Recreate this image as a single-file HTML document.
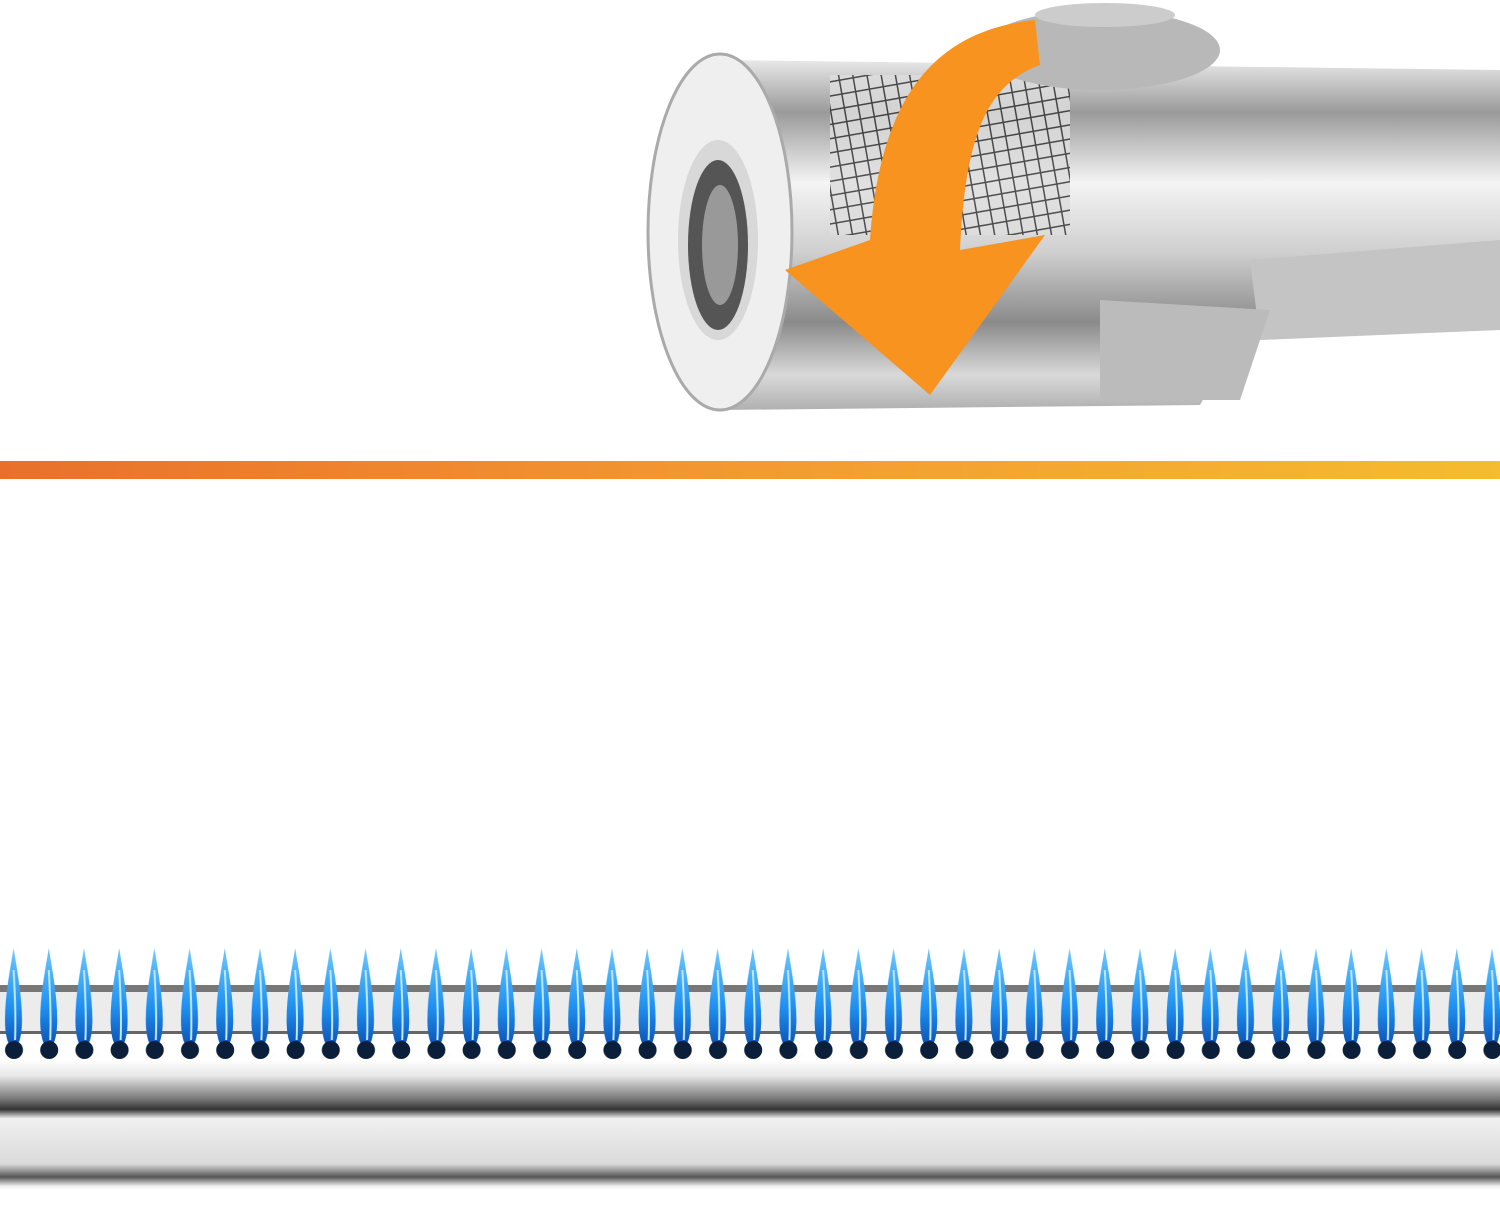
<!DOCTYPE html>
<html><head><meta charset="utf-8"><style>html,body{margin:0;padding:0;background:#fff}svg{display:block}</style></head>
<body>
<svg width="1500" height="1213" viewBox="0 0 1500 1213" xmlns="http://www.w3.org/2000/svg">
<defs>
<linearGradient id="tube" x1="0" y1="0" x2="0" y2="1">
<stop offset="0" stop-color="#e8e8e8"/><stop offset="0.15" stop-color="#9a9a9a"/><stop offset="0.35" stop-color="#f4f4f4"/><stop offset="0.55" stop-color="#cfcfcf"/><stop offset="0.75" stop-color="#8a8a8a"/><stop offset="0.9" stop-color="#d9d9d9"/><stop offset="1" stop-color="#b0b0b0"/>
</linearGradient>
<linearGradient id="line" x1="0" y1="0" x2="1" y2="0">
<stop offset="0" stop-color="#e8702c"/><stop offset="0.5" stop-color="#f39a32"/><stop offset="1" stop-color="#f6bb30"/>
</linearGradient>
<linearGradient id="bar" x1="0" y1="0" x2="0" y2="1">
<stop offset="0" stop-color="#fff"/><stop offset="0.12" stop-color="#e8e8e8"/><stop offset="0.3" stop-color="#777"/><stop offset="0.38" stop-color="#333"/><stop offset="0.45" stop-color="#f0f0f0"/><stop offset="0.8" stop-color="#dadada"/><stop offset="0.9" stop-color="#555"/><stop offset="0.97" stop-color="#eee"/><stop offset="1" stop-color="#fff"/>
</linearGradient>
<linearGradient id="fl" x1="0" y1="0" x2="0" y2="1">
<stop offset="0" stop-color="#6cc8ff"/><stop offset="0.6" stop-color="#1e8ff0"/><stop offset="1" stop-color="#0a4fb0"/>
</linearGradient>
<pattern id="flames" x="-4" y="940" width="35.2" height="125" patternUnits="userSpaceOnUse">
<path d="M17.6 8 C21 30 26 55 26 80 C26 98 22 108 17.6 108 C13 108 9 98 9 80 C9 55 14 30 17.6 8Z" fill="url(#fl)"/>
<ellipse cx="18" cy="110" rx="9" ry="9" fill="#0b1f3a"/>
<path d="M17.6 30 C19 55 20 80 19 100" stroke="#bfe8ff" stroke-width="2" fill="none"/>
</pattern>
<pattern id="mesh" width="14" height="14" patternUnits="userSpaceOnUse" patternTransform="rotate(-10)">
<rect width="14" height="14" fill="#ddd"/><path d="M0 0H14M0 0V14" stroke="#333" stroke-width="3"/>
</pattern>
</defs>
<rect width="1500" height="1213" fill="#fff"/>
<path d="M720 60 L1500 70 L1500 300 L1250 320 L1200 405 L720 410Z" fill="url(#tube)"/>
<rect x="830" y="75" width="240" height="160" fill="url(#mesh)" opacity="0.85"/>
<path d="M1250 260 L1500 240 L1500 330 L1260 340Z" fill="#c4c4c4"/>
<path d="M1100 300 L1270 310 L1240 400 L1100 400Z" fill="#bbb"/>
<ellipse cx="1100" cy="50" rx="120" ry="40" fill="#b8b8b8"/>
<ellipse cx="1105" cy="15" rx="70" ry="12" fill="#ccc"/>
<ellipse cx="720" cy="232" rx="72" ry="178" fill="#efefef" stroke="#aaa" stroke-width="3"/>
<ellipse cx="718" cy="240" rx="40" ry="100" fill="#d8d8d8"/>
<ellipse cx="718" cy="245" rx="30" ry="85" fill="#555"/>
<ellipse cx="720" cy="245" rx="18" ry="60" fill="#999"/>
<path d="M1035 20 C940 30 880 90 870 240 L785 270 L930 395 L1045 235 L960 250 C965 140 985 85 1040 65Z" fill="#f7931e"/>
<rect x="0" y="461" width="1500" height="18" fill="url(#line)"/>
<rect x="0" y="985" width="1500" height="8" fill="#777"/>
<rect x="0" y="992" width="1500" height="40" fill="#ececec"/>
<rect x="0" y="1031" width="1500" height="3" fill="#666"/>
<rect x="0" y="1060" width="1500" height="130" fill="url(#bar)"/>
<rect x="0" y="940" width="1500" height="125" fill="url(#flames)"/>
</svg>
</body></html>
